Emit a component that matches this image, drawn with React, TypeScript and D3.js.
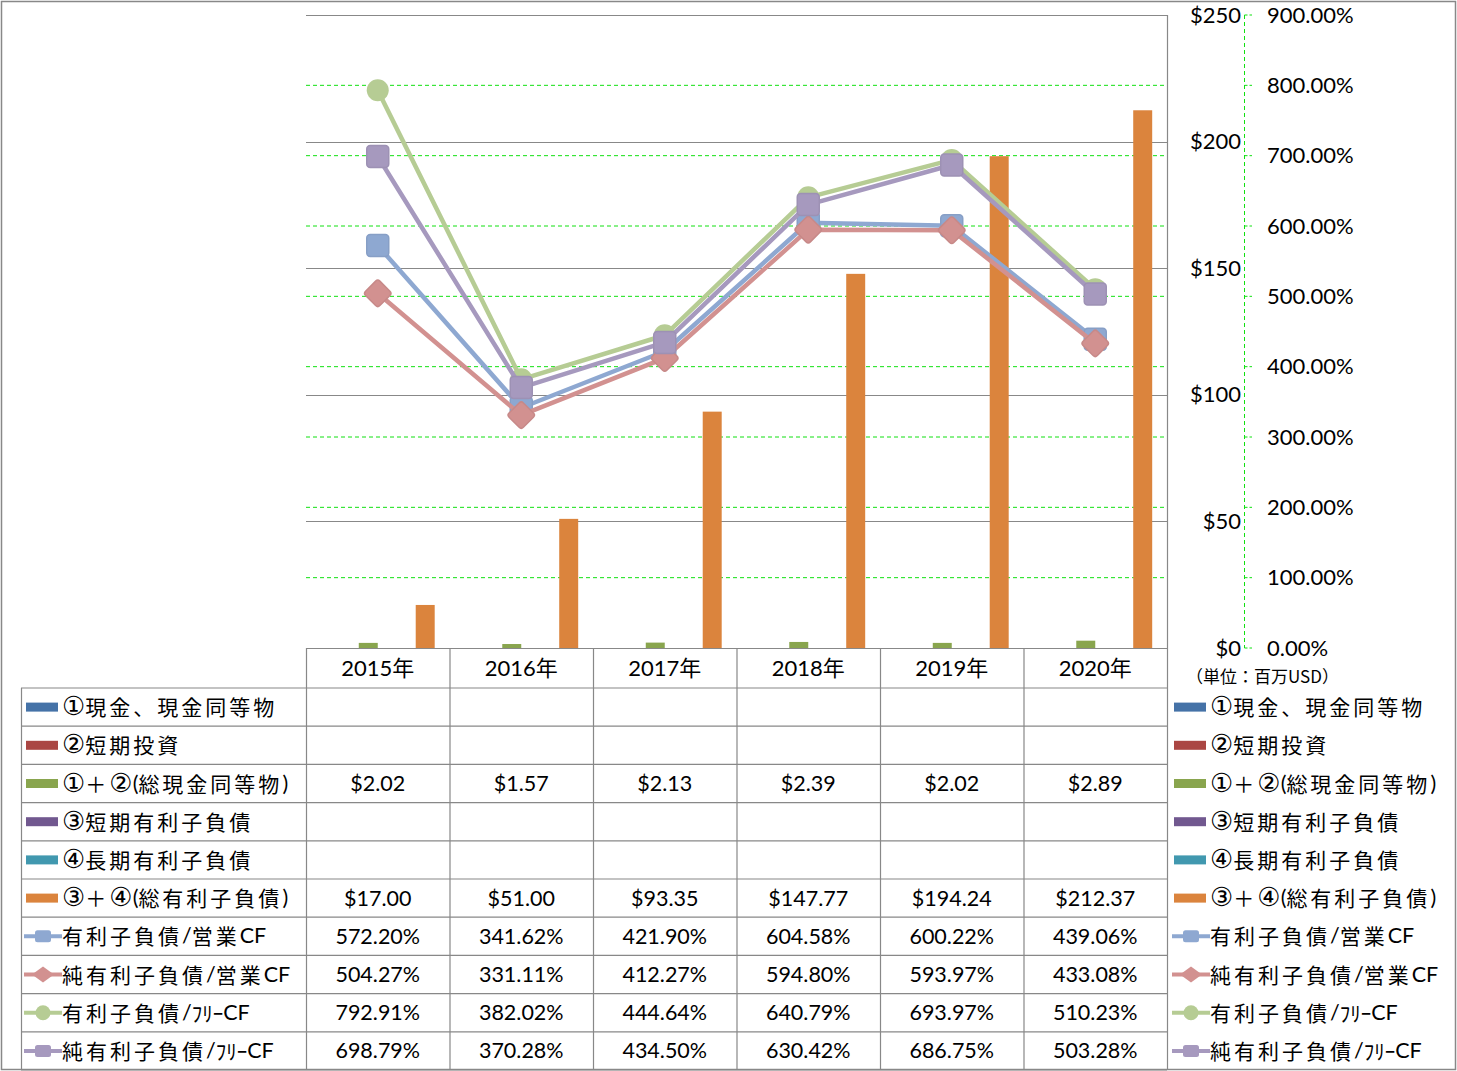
import React from "react";
import * as d3 from "d3";

const years = ["2015年", "2016年", "2017年", "2018年", "2019年", "2020年"];
const cashTotal = [2.02, 1.57, 2.13, 2.39, 2.02, 2.89];
const debtTotal = [17.0, 51.0, 93.35, 147.77, 194.24, 212.37];
const debtOpCF = [572.2, 341.62, 421.9, 604.58, 600.22, 439.06];
const netDebtOpCF = [504.27, 331.11, 412.27, 594.8, 593.97, 433.08];
const debtFreeCF = [792.91, 382.02, 444.64, 640.79, 693.97, 510.23];
const netDebtFreeCF = [698.79, 370.28, 434.5, 630.42, 686.75, 503.28];
const leftTicks = [0, 50, 100, 150, 200, 250];
const rightTicks = [0, 100, 200, 300, 400, 500, 600, 700, 800, 900];

const barSeries = [
  { name: "①現金、現金同等物", color: "#4572A7", values: null as number[] | null },
  { name: "②短期投資", color: "#AA4643", values: null as number[] | null },
  { name: "①＋②(総現金同等物)", color: "#89A54E", values: cashTotal },
  { name: "③短期有利子負債", color: "#71588F", values: null as number[] | null },
  { name: "④長期有利子負債", color: "#4198AF", values: null as number[] | null },
  { name: "③＋④(総有利子負債)", color: "#DB843D", values: debtTotal },
];
const lineSeries = [
  { name: "有利子負債/営業CF", color: "#8EA8D1", marker: "square", values: debtOpCF },
  { name: "純有利子負債/営業CF", color: "#D29190", marker: "diamond", values: netDebtOpCF },
  { name: "有利子負債/ﾌﾘｰCF", color: "#B6CC94", marker: "circle", values: debtFreeCF },
  { name: "純有利子負債/ﾌﾘｰCF", color: "#A699BE", marker: "square", values: netDebtFreeCF },
];

const W = 1457, H = 1071;
const PX0 = 306, PX1 = 1167, PY0 = 15, PY1 = 648;
const TABLE_L = 21, HEADER_BOTTOM = 688, ROW_H = 38.2;
const GRID = "#888888";
const GREEN = "#11E011";
const LATIN = "Lato, 'Noto Sans CJK JP', sans-serif";
const JP = "'Noto Sans CJK JP', sans-serif";
const CIRC = "'DejaVu Sans', 'Noto Sans CJK JP', sans-serif";

function fmtMoney(v: number) { return "$" + v.toFixed(2); }
function fmtPct(v: number) { return v.toFixed(2) + "%"; }

function splitRuns(s: string) {
  const runs: { t: string; kind: string }[] = [];
  for (const ch of Array.from(s)) {
    let kind = "cjk";
    if (/[①-⑳]/.test(ch)) kind = "circ";
    else if (/[\x20-\x7e]/.test(ch)) kind = "latin";
    else if (/[ｦ-ﾟ]/.test(ch)) kind = "kana";
    const last = runs[runs.length - 1];
    if (last && last.kind === kind) last.t += ch;
    else runs.push({ t: ch, kind });
  }
  return runs;
}

function Label({ text, x, y }: { text: string; x: number; y: number }) {
  return (
    <text x={x} y={y} dominantBaseline="central" fill="#000" fontSize={21} fontFamily={JP}>
      {splitRuns(text).map((r, i) => {
        if (r.kind === "circ")
          return <tspan key={i} fontFamily={CIRC} fontSize={26} letterSpacing={0}>{r.t}</tspan>;
        if (r.kind === "latin")
          return <tspan key={i} fontFamily={LATIN} fontSize={21.5} letterSpacing={0}>{r.t}</tspan>;
        if (r.kind === "kana")
          return <tspan key={i} fontFamily={JP} fontSize={21} letterSpacing={0}>{r.t}</tspan>;
        return <tspan key={i} fontSize={21} letterSpacing={3}>{r.t}</tspan>;
      })}
    </text>
  );
}

function Marker({ type, cx, cy, color, s }: { type: string; cx: number; cy: number; color: string; s: number }) {
  const stroke = d3.color(color)!.darker(0.15).toString();
  if (type === "circle") return <circle cx={cx} cy={cy} r={s / 2} fill={color} />;
  if (type === "diamond") {
    const h = s * 0.92;
    return (
      <rect x={cx - h / 2} y={cy - h / 2} width={h} height={h} rx={3} fill={color}
        stroke={stroke} strokeWidth={1.5} transform={`rotate(45 ${cx} ${cy})`} />
    );
  }
  return (
    <rect x={cx - s / 2} y={cy - s / 2} width={s} height={s} rx={3.5} fill={color}
      stroke={stroke} strokeWidth={1.5} />
  );
}

function LegendKey({ idx, x, cy }: { idx: number; x: number; cy: number }) {
  if (idx < 6) {
    return <rect x={x} y={cy - 4.5} width={32} height={9} fill={barSeries[idx].color} />;
  }
  const ls = lineSeries[idx - 6];
  const mx = x + 17;
  let m;
  if (ls.marker === "circle") m = <circle cx={mx} cy={cy} r={7.5} fill={ls.color} />;
  else if (ls.marker === "diamond")
    m = <path d={`M${mx - 11},${cy} L${mx},${cy - 8} L${mx + 11},${cy} L${mx},${cy + 8} Z`} fill={ls.color} />;
  else m = <rect x={mx - 8} y={cy - 6} width={16} height={12} rx={2.5} fill={ls.color} />;
  return (
    <g>
      <line x1={x - 2} x2={x + 36} y1={cy} y2={cy} stroke={ls.color} strokeWidth={4} />
      {m}
    </g>
  );
}

export default function App() {
  const x = d3.scaleBand<string>().domain(years).range([PX0, PX1]).padding(0);
  const inner = d3.scaleBand<number>().domain(d3.range(6)).range([0, x.bandwidth()]).paddingInner(0).paddingOuter(0.78);
  const yL = d3.scaleLinear().domain([0, 250]).range([PY1, PY0]);
  const yR = d3.scaleLinear().domain([0, 900]).range([PY1, PY0]);
  const cx = (i: number) => (x(years[i]) as number) + x.bandwidth() / 2;

  const rowLabels = [...barSeries.map((b) => b.name), ...lineSeries.map((l) => l.name)];
  const rowValues: (string[] | null)[] = [
    ...barSeries.map((b) => (b.values ? b.values.map(fmtMoney) : null)),
    ...lineSeries.map((l) => l.values.map(fmtPct)),
  ];
  const nRows = rowLabels.length;
  const tableBottom = HEADER_BOTTOM + ROW_H * nRows;
  const rowCy = (r: number) => HEADER_BOTTOM + ROW_H * r + ROW_H / 2;

  const lineGen = d3.line<number>().x((_, i) => cx(i)).y((v) => yR(v));

  return (
    <svg width={W} height={H} style={{ position: "absolute", left: 0, top: 0, background: "#fff" }}>
      <rect x={0} y={0} width={W} height={H} fill="#fff" />
      <rect x={1.5} y={1.5} width={W - 3} height={H - 3} fill="none" stroke={GRID} strokeWidth={1.5} />

      {rightTicks.filter((t) => t > 0 && t < 900).map((t) => (
        <line key={"g" + t} x1={PX0} x2={PX1} y1={yR(t)} y2={yR(t)} stroke={GREEN} strokeWidth={1} strokeDasharray="4,3" />
      ))}
      {leftTicks.filter((t) => t > 0).map((t) => (
        <line key={"l" + t} x1={PX0} x2={PX1} y1={Math.round(yL(t)) + 0.5} y2={Math.round(yL(t)) + 0.5} stroke={GRID} strokeWidth={1} />
      ))}

      {barSeries.map((s, si) =>
        s.values
          ? s.values.map((v, i) => (
              <rect key={`b${si}-${i}`} x={(x(years[i]) as number) + (inner(si) as number)} y={yL(v)}
                width={inner.bandwidth()} height={PY1 - yL(v)} fill={s.color} />
            ))
          : null
      )}

      {lineSeries.map((s, si) => (
        <g key={"ls" + si}>
          <path d={lineGen(s.values) || ""} fill="none" stroke={s.color} strokeWidth={4.5} strokeLinejoin="round" />
          {s.values.map((v, i) => (
            <Marker key={i} type={s.marker} cx={cx(i)} cy={yR(v)} color={s.color} s={22} />
          ))}
        </g>
      ))}

      {leftTicks.map((t) => (
        <text key={"lt" + t} x={1241} y={yL(t) - 1} textAnchor="end" dominantBaseline="central"
          fontFamily={LATIN} fontSize={22} fill="#000">{"$" + t}</text>
      ))}
      <line x1={1244.5} x2={1244.5} y1={PY0} y2={PY1} stroke={GREEN} strokeWidth={1} strokeDasharray="4,3" />
      {rightTicks.map((t) => (
        <line key={"rt" + t} x1={1244.5} x2={1252} y1={yR(t)} y2={yR(t)} stroke={GREEN} strokeWidth={1} strokeDasharray="3,2" />
      ))}
      {rightTicks.map((t) => (
        <text key={"rl" + t} x={1267} y={yR(t) - 1} dominantBaseline="central"
          fontFamily={LATIN} fontSize={22} fill="#000">{t.toFixed(2) + "%"}</text>
      ))}
      <text x={1186} y={675} dominantBaseline="central" fontFamily={JP} fontSize={17} fill="#000">（単位：百万USD）</text>

      <line x1={PX0} x2={PX1} y1={PY0 + 0.5} y2={PY0 + 0.5} stroke={GRID} strokeWidth={1} />
      <line x1={PX1 + 0.5} x2={PX1 + 0.5} y1={PY0} y2={tableBottom} stroke={GRID} strokeWidth={1.2} />

      <line x1={PX0} x2={PX1} y1={PY1 + 0.5} y2={PY1 + 0.5} stroke={GRID} strokeWidth={1.2} />
      {years.map((yr, i) => (
        <line key={"cv" + i} x1={(x(yr) as number) + 0.5} x2={(x(yr) as number) + 0.5} y1={PY1} y2={tableBottom} stroke={GRID} strokeWidth={1.2} />
      ))}
      <line x1={TABLE_L + 0.5} x2={TABLE_L + 0.5} y1={HEADER_BOTTOM} y2={tableBottom} stroke={GRID} strokeWidth={1.2} />
      {d3.range(nRows + 1).map((r) => (
        <line key={"rh" + r} x1={TABLE_L} x2={PX1} y1={HEADER_BOTTOM + ROW_H * r} y2={HEADER_BOTTOM + ROW_H * r} stroke={GRID} strokeWidth={1.2} />
      ))}
      {years.map((yr, i) => (
        <text key={"yh" + i} x={cx(i)} y={667} textAnchor="middle" dominantBaseline="central"
          fontFamily={LATIN} fontSize={22} fill="#000">{yr}</text>
      ))}
      {rowLabels.map((lab, r) => (
        <g key={"row" + r}>
          <LegendKey idx={r} x={26} cy={rowCy(r)} />
          <Label text={lab} x={62} y={rowCy(r) - 1} />
          <LegendKey idx={r} x={1174} cy={rowCy(r)} />
          <Label text={lab} x={1210} y={rowCy(r) - 1} />
          {rowValues[r]
            ? rowValues[r]!.map((v, i) => (
                <text key={i} x={cx(i)} y={rowCy(r) - 0.5} textAnchor="middle" dominantBaseline="central"
                  fontFamily={LATIN} fontSize={21.5} fill="#000">{v}</text>
              ))
            : null}
        </g>
      ))}
    </svg>
  );
}
